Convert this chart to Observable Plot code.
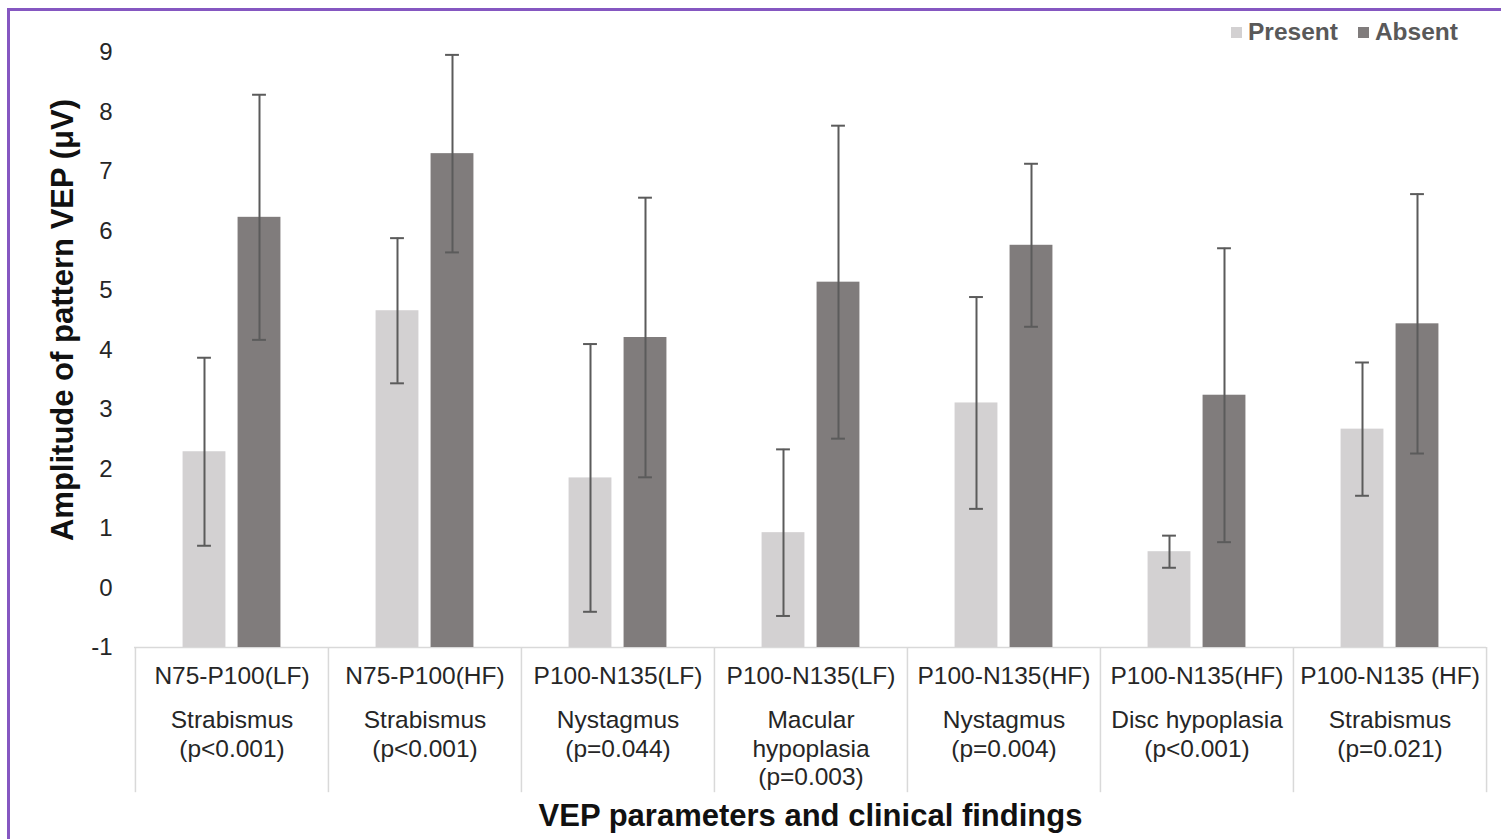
<!DOCTYPE html>
<html>
<head>
<meta charset="utf-8">
<script src="https://cdn.jsdelivr.net/npm/d3@7"></script>
<script src="https://cdn.jsdelivr.net/npm/@observablehq/plot@0.6"></script>
<style>
  html, body { margin: 0; padding: 0; background: #fff; }
  #wrap { position: relative; width: 1501px; height: 839px; overflow: hidden; font-family: "Liberation Sans", Arial, sans-serif; }
  #border { position: absolute; left: 7px; top: 8px; width: 1700px; height: 1000px; border-left: 3px solid #8557c1; border-top: 3px solid #8557c1; pointer-events: none; }
  #chart { position: absolute; left: 0; top: 0; }
  #legend { position: absolute; left: 1231px; top: 18px; display: flex; align-items: center; font-weight: bold; font-size: 24.5px; color: #595959; white-space: nowrap; }
  #legend .sw { display: inline-block; width: 11px; height: 11px; margin-right: 6px; }
  #legend .item { display: flex; align-items: center; margin-right: 20px; }
</style>
</head>
<body>
<div id="wrap">
  <div id="chart"></div>
  <div id="legend"></div>
  <div id="border"></div>
</div>
<script>
// ---- data ----
const params = ["N75-P100(LF)", "N75-P100(HF)", "P100-N135(LF)", "P100-N135(LF)", "P100-N135(HF)", "P100-N135(HF)", "P100-N135 (HF)"];
const findings = ["Strabismus", "Strabismus", "Nystagmus", "Macular\nhypoplasia", "Nystagmus", "Disc hypoplasia", "Strabismus"];
const pValues = ["(p<0.001)", "(p<0.001)", "(p=0.044)", "(p=0.003)", "(p=0.004)", "(p<0.001)", "(p=0.021)"];
const seriesNames = ["Present", "Absent"];
const presentMean = [2.29, 4.66, 1.85, 0.93, 3.11, 0.61, 2.67];
const presentSD   = [1.58, 1.22, 2.25, 1.40, 1.78, 0.27, 1.12];
const absentMean  = [6.23, 7.30, 4.21, 5.14, 5.76, 3.24, 4.44];
const absentSD    = [2.06, 1.66, 2.35, 2.63, 1.37, 2.47, 2.18];
const yTicks = [-1, 0, 1, 2, 3, 4, 5, 6, 7, 8, 9];
const yLabel = "Amplitude of pattern VEP (μV)";
const xLabel = "VEP parameters and clinical findings";
const colors = ["#d3d1d2", "#807c7c"];

// ---- table ----
const keys = params.map((p, i) => p + "|" + findings[i] + "|" + i);
const cats = keys.map((k, i) => ({key: k, param: params[i], finding: findings[i] + "\n" + pValues[i]}));
const rows = [];
keys.forEach((k, i) => {
  rows.push({key: k, series: "Present", mean: presentMean[i], sd: presentSD[i]});
  rows.push({key: k, series: "Absent", mean: absentMean[i], sd: absentSD[i]});
});
const present = rows.filter(d => d.series === "Present");
const absent = rows.filter(d => d.series === "Absent");

// ---- layout ----
const W = 1501, H = 839, mL = 134, mR = 15, mT = 52, mB = 192;
const step = (W - mL - mR) / keys.length, half = step / 2;
const barW = 43, gapC = 6, off = gapC + barW / 2, capHalf = 7;
const errColor = "#5b5b5b", gridColor = "#d9d9d9", textColor = "#262626";

const chart = Plot.plot({
  width: W, height: H,
  marginLeft: mL, marginRight: mR, marginTop: mT, marginBottom: mB,
  style: {fontFamily: '"Liberation Sans", Arial, sans-serif', fontSize: "24px", color: textColor, background: "transparent"},
  x: {domain: keys, padding: 0, axis: null},
  y: {domain: [-1, 9], ticks: yTicks, tickSize: 0, tickPadding: 22, tickFormat: d => String(d), label: null},
  color: {domain: seriesNames, range: colors},
  marks: [
    Plot.ruleY([-1], {stroke: gridColor, strokeWidth: 1.5}),
    Plot.ruleX(keys, {x: d => d, dx: -half, y1: () => -1, y2: () => -3.44, stroke: gridColor, strokeWidth: 1.5}),
    Plot.ruleX(keys.slice(-1), {x: d => d, dx: half, y1: () => -1, y2: () => -3.44, stroke: gridColor, strokeWidth: 1.5}),
    Plot.barY(present, {x: "key", y1: () => -1, y2: "mean", fill: "series", insetLeft: half - off - barW / 2, insetRight: half + off - barW / 2}),
    Plot.barY(absent, {x: "key", y1: () => -1, y2: "mean", fill: "series", insetLeft: half + off - barW / 2, insetRight: half - off - barW / 2}),
    Plot.ruleX(present, {x: "key", dx: -off, y1: d => d.mean - d.sd, y2: d => d.mean + d.sd, stroke: errColor, strokeWidth: 2}),
    Plot.ruleX(absent, {x: "key", dx: off, y1: d => d.mean - d.sd, y2: d => d.mean + d.sd, stroke: errColor, strokeWidth: 2}),
    Plot.tickY(present, {x: "key", y: d => d.mean + d.sd, dx: -off, insetLeft: half - capHalf, insetRight: half - capHalf, stroke: errColor, strokeWidth: 2}),
    Plot.tickY(present, {x: "key", y: d => d.mean - d.sd, dx: -off, insetLeft: half - capHalf, insetRight: half - capHalf, stroke: errColor, strokeWidth: 2}),
    Plot.tickY(absent, {x: "key", y: d => d.mean + d.sd, dx: off, insetLeft: half - capHalf, insetRight: half - capHalf, stroke: errColor, strokeWidth: 2}),
    Plot.tickY(absent, {x: "key", y: d => d.mean - d.sd, dx: off, insetLeft: half - capHalf, insetRight: half - capHalf, stroke: errColor, strokeWidth: 2}),
    Plot.text(cats, {x: "key", text: "param", frameAnchor: "bottom", lineAnchor: "middle", dy: 29, fontSize: 24.5, fill: textColor}),
    Plot.text(cats, {x: "key", text: "finding", frameAnchor: "bottom", lineAnchor: "top", dy: 60, lineHeight: 1.17, fontSize: 24.5, fill: textColor}),
    Plot.text([yLabel], {text: d => d, frameAnchor: "left", textAnchor: "middle", lineAnchor: "middle", rotate: -90, dx: -71, dy: -30, fontSize: 31, fontWeight: "bold", fill: "#111"}),
    Plot.text([xLabel], {text: d => d, frameAnchor: "bottom", lineAnchor: "middle", dy: 169, fontSize: 31, fontWeight: "bold", fill: "#111"})
  ]
});
document.getElementById("chart").appendChild(chart);

// ---- legend ----
const legend = document.getElementById("legend");
seriesNames.forEach((s, i) => {
  const item = document.createElement("span");
  item.className = "item";
  const sw = document.createElement("span");
  sw.className = "sw";
  sw.style.background = colors[i];
  item.appendChild(sw);
  item.appendChild(document.createTextNode(s));
  legend.appendChild(item);
});
</script>
</body>
</html>
